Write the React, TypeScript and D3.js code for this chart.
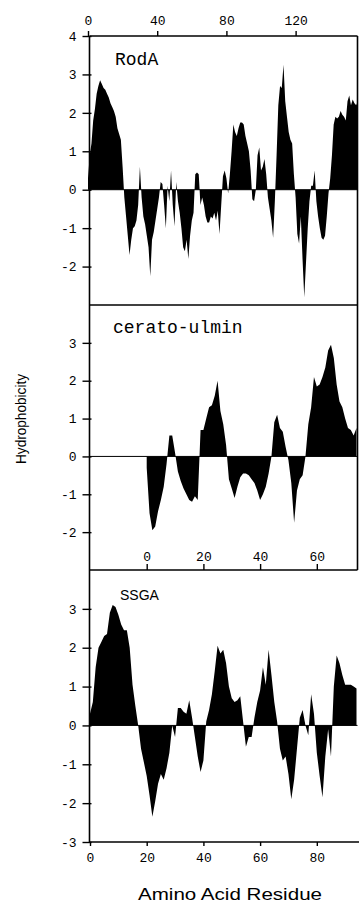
import * as d3 from "d3";
import { useEffect, useRef } from "react";

// hydrophobicity per residue
const rodA = [
  0.3, 0.9, 1.2, 1.8, 2.1, 2.5, 2.7, 2.85, 2.75, 2.65,
  2.6, 2.5, 2.4, 2.25, 2.15, 2.05, 1.9, 1.6, 1.45, 1.3,
  0.6, -0.2, -0.7, -1.2, -1.7, -1.3, -1.0, -0.95, -0.8, -0.4,
  0.6, -0.2, -0.7, -0.9, -1.2, -1.5, -2.25, -1.3, -1.1, -0.8,
  -0.5, -0.2, 0.2, 0.15, -0.4, -1.0, 0.1, -0.3, 0.5, -0.4,
  -0.95, 0.2, -0.3, -0.6, -1.0, -1.5, -1.6, -1.3, -1.8, -1.2,
  -0.8, -0.6, 0.4, 0.45, 0.4, -0.4, -0.2, -0.4, -0.7, -0.85,
  -0.85, -0.7, -0.75, -0.6, -0.8, -0.55, -1.15, -0.4, 0.35, 0.5,
  0.3, -0.1, 0.4, 1.0, 1.7, 1.5, 1.4, 1.6, 1.75, 1.75,
  1.7, 1.4, 1.2, 1.0, 0.5, -0.25, -0.3, 0.0, 0.9, 1.1,
  0.5, 0.6, 0.8, 0.4, -0.2, -0.5, -0.8, -1.25, -0.3, 0.9,
  2.2, 2.7, 2.65, 3.25, 2.3, 1.9, 1.5, 1.3, 1.2, 0.4,
  -0.2, -1.15, -1.4, -0.7, -1.8, -2.8, -1.9, -1.0, -0.3, 0.1,
  0.1, 0.5, -0.3, -0.7, -1.0, -1.25, -1.3, -1.2, -0.7, -0.1,
  0.3, 0.9, 1.7, 1.9, 1.85, 1.9, 2.05, 1.95, 1.9, 1.8,
  2.3, 2.45, 2.2, 2.35, 2.25, 2.2, 2.3,
];

const ceratoUlmin = [
  -0.3, -1.5, -1.95, -1.85, -1.45, -1.15, -0.8, -0.2, 0.55, 0.55,
  0.1, -0.4, -0.65, -0.85, -1.0, -1.15, -1.2, -1.05, -1.15, 0.7,
  0.7, 1.0, 1.3, 1.35, 1.6, 2.0, 1.2, 0.85, 0.3, -0.6,
  -0.85, -1.1, -0.8, -0.55, -0.45, -0.45, -0.5, -0.6, -0.7, -0.9,
  -1.15, -1.0, -0.8, -0.45, 0.0, 0.9, 1.1, 0.75, 0.65, 0.25,
  -0.1, -0.7, -1.75, -0.9, -0.6, -0.5, 0.0, 0.85, 1.3, 2.1,
  1.85, 1.9, 2.1, 2.35, 2.8, 2.95, 2.6, 1.9, 1.45, 1.3,
  1.0, 0.75, 0.7, 0.55, 0.75,
];

const ssga = [
  0.3, 0.6, 1.5, 2.0, 2.15, 2.3, 2.35, 2.9, 3.1, 3.05,
  2.85, 2.6, 2.45, 2.45, 2.0, 1.05, 0.5, 0.0, -0.6, -0.95,
  -1.3, -1.8, -2.35, -1.95, -1.5, -1.25, -1.4, -1.1, -0.7, 0.0,
  -0.3, 0.45, 0.45, 0.35, 0.3, 0.65, 0.2, -0.3, -0.8, -1.2,
  -0.9, 0.1, 0.4, 0.8, 1.4, 2.05, 1.85, 1.95, 1.6, 1.0,
  0.7, 0.6, 0.65, 0.75, 0.1, -0.55, -0.3, -0.3, 0.2, 0.6,
  0.9, 1.5, 1.05, 1.95, 1.3, 0.6, 0.1, -0.6, -0.9, -0.8,
  -1.25, -1.9, -1.4, -0.6, 0.2, 0.4, 0.0, -0.25, 0.8, 0.3,
  -0.7, -1.3, -1.85, -0.8, -0.1, -0.8, 1.0, 1.8, 1.6, 1.3,
  1.05, 1.05, 1.05, 1.0, 0.95,
];

const rodATicks = [0, 40, 80, 120];
const ceratoTicks = [0, 20, 40, 60];
const ssgaTicks = [0, 20, 40, 60, 80];
const yTicksRodA = [-2, -1, 0, 1, 2, 3, 4];
const yTicksCerato = [-2, -1, 0, 1, 2, 3];
const yTicksSsga = [-3, -2, -1, 0, 1, 2, 3];

// cerato-ulmin residue 0 sits under SSGA residue 20
const ceratoOffset = 20;

const mono = "'Liberation Mono', monospace";
const sans = "'Liberation Sans', Arial, sans-serif";

export default function App() {
  const ref = useRef<SVGSVGElement>(null);

  useEffect(() => {
    const svg = d3.select(ref.current);
    svg.selectAll("*").remove();

    const left = 89.5,
      right = 357.5;

    const xRod = d3.scaleLinear().domain([0, 156]).range([88, 357.9]);
    const xSsga = d3.scaleLinear().domain([0, 94]).range([90, 356.5]);
    const xCerato = d3
      .scaleLinear()
      .domain([-ceratoOffset, 94 - ceratoOffset])
      .range(xSsga.range());

    const panels = [
      { data: rodA, x: xRod, top: 36, bottom: 305, ticks: yTicksRodA },
      { data: ceratoUlmin, x: xCerato, top: 305, bottom: 570, ticks: yTicksCerato },
      { data: ssga, x: xSsga, top: 570, bottom: 842, ticks: yTicksSsga },
    ];

    panels.forEach((p) => {
      const y = d3.scaleLinear().domain([-3, 4]).range([p.bottom, p.top]);

      const area = d3
        .area<number>()
        .x((_, i) => p.x(i))
        .y0(y(0))
        .y1((d) => y(d));

      svg.append("path").datum(p.data).attr("fill", "black").attr("d", area);

      svg
        .append("line")
        .attr("x1", left)
        .attr("x2", right)
        .attr("y1", y(0))
        .attr("y2", y(0))
        .attr("stroke", "black")
        .attr("stroke-width", 1);

      const ax = svg
        .append("g")
        .attr("transform", `translate(${left},0)`)
        .call(
          d3
            .axisLeft(y)
            .tickValues(p.ticks)
            .tickSize(7)
            .tickPadding(6)
            .tickFormat((d) => String(d))
        );
      ax.select(".domain").remove();
      ax.selectAll(".tick line").attr("x1", 2).attr("stroke-width", 1.4);
      ax.selectAll("text")
        .attr("font-family", mono)
        .attr("font-size", 13)
        .attr("fill", "black");
    });

    // frame
    const frame = [
      [left, 36, left, 842],
      [left, 36, right, 36],
      [left, 305, right, 305],
      [left, 570, right, 570],
      [left, 842, 359, 842],
      [right, 36, right, 570],
    ];
    svg
      .append("g")
      .selectAll("line")
      .data(frame)
      .join("line")
      .attr("x1", (d) => d[0])
      .attr("y1", (d) => d[1])
      .attr("x2", (d) => d[2])
      .attr("y2", (d) => d[3])
      .attr("stroke", "black")
      .attr("stroke-width", 1.6);

    const styleAxis = (g: any) => {
      g.select(".domain").remove();
      g.selectAll(".tick line").attr("stroke-width", 1.4);
      g.selectAll("text")
        .attr("font-family", mono)
        .attr("font-size", 13)
        .attr("fill", "black");
    };

    svg
      .append("g")
      .attr("transform", "translate(0,36)")
      .call(d3.axisTop(xRod).tickValues(rodATicks).tickSize(5).tickPadding(6))
      .call(styleAxis);

    svg
      .append("g")
      .attr("transform", "translate(0,570)")
      .call(d3.axisTop(xCerato).tickValues(ceratoTicks).tickSize(6).tickPadding(3))
      .call(styleAxis);

    svg
      .append("g")
      .attr("transform", "translate(0,842)")
      .call(d3.axisBottom(xSsga).tickValues(ssgaTicks).tickSize(4).tickPadding(7))
      .call(styleAxis);

    // panel names
    svg.append("text").attr("x", 115).attr("y", 65).attr("font-family", mono).attr("font-size", 18).text("RodA");
    svg.append("text").attr("x", 113).attr("y", 333).attr("font-family", mono).attr("font-size", 18).text("cerato-ulmin");
    svg.append("text").attr("x", 120).attr("y", 600).attr("font-family", sans).attr("font-size", 14).text("SSGA");

    // axis titles
    svg
      .append("text")
      .attr("transform", "translate(26,419) rotate(-90)")
      .attr("text-anchor", "middle")
      .attr("font-family", sans)
      .attr("font-size", 15.5)
      .attr("textLength", 90)
      .attr("lengthAdjust", "spacingAndGlyphs")
      .text("Hydrophobicity");

    svg
      .append("text")
      .attr("x", 138)
      .attr("y", 900)
      .attr("font-family", sans)
      .attr("font-size", 17)
      .attr("textLength", 184)
      .attr("lengthAdjust", "spacingAndGlyphs")
      .text("Amino Acid Residue");
  }, []);

  return (
    <svg
      ref={ref}
      width={359}
      height={907}
      style={{ position: "absolute", left: 0, top: 0, background: "white" }}
    />
  );
}
